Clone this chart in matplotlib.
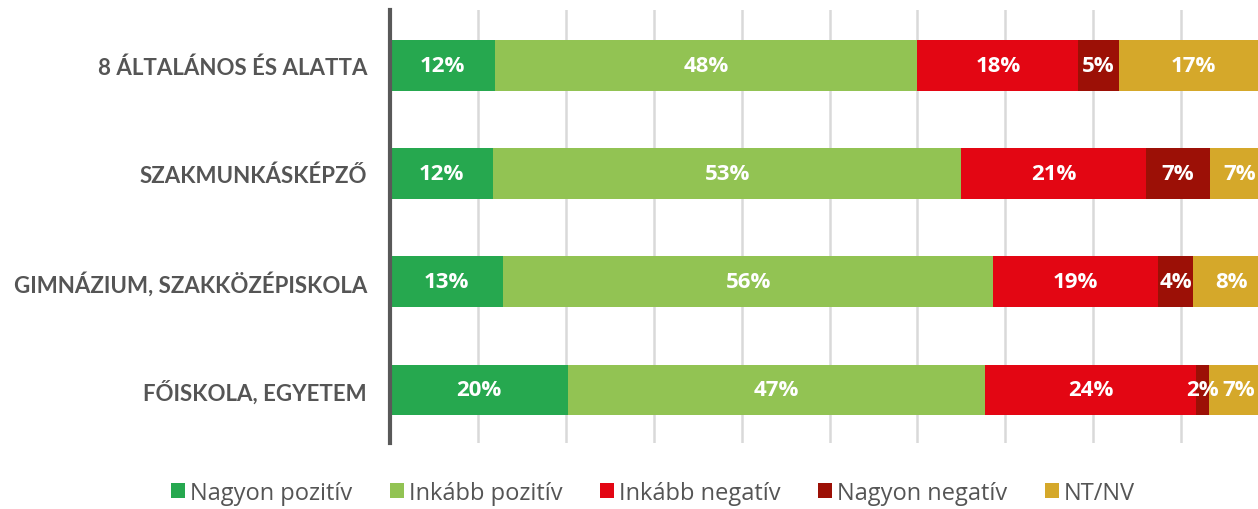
import matplotlib.pyplot as plt
import numpy as np

categories = ["8 ÁLTALÁNOS ÉS ALATTA", "SZAKMUNKÁSKÉPZŐ",
              "GIMNÁZIUM, SZAKKÖZÉPISKOLA", "FŐISKOLA, EGYETEM"]
series = ["Nagyon pozitív", "Inkább pozitív", "Inkább negatív", "Nagyon negatív", "NT/NV"]
colors = ["#26A84F", "#92C353", "#E30613", "#9C1006", "#D5A82A"]

# bar lengths, labels as printed
nagyon_pozitiv = [12.0, 11.7, 12.9, 20.2]
inkabb_pozitiv = [48.0, 53.3, 55.7, 47.5]
inkabb_negativ = [18.3, 21.0, 18.8, 24.0]
nagyon_negativ = [4.6, 7.3, 4.0, 1.5]
nt_nv = [17.1, 6.7, 8.6, 6.8]

labels = [
    ["12%", "12%", "13%", "20%"],
    ["48%", "53%", "56%", "47%"],
    ["18%", "21%", "19%", "24%"],
    ["5%", "7%", "4%", "2%"],
    ["17%", "7%", "8%", "7%"],
]

values = [nagyon_pozitiv, inkabb_pozitiv, inkabb_negativ, nagyon_negativ, nt_nv]

plt.rcParams['font.family'] = ['Lato', 'DejaVu Sans']

fig = plt.figure(figsize=(12.58, 5.10), dpi=100)
ax = fig.add_axes([390 / 1258, 66 / 510, 868 / 1258, 433 / 510])

y = np.arange(len(categories))
left = np.zeros(len(categories))
for vals, col, name, labs in zip(values, colors, series, labels):
    vals = np.array(vals)
    ax.barh(y, vals, left=left, height=0.47, color=col, label=name, zorder=3)
    for yi, l, v, t in zip(y, left, vals, labs):
        ax.text(l + v / 2, yi, t, ha="center", va="center", color="white",
                fontsize=16, fontweight="bold", family=["Open Sans", "DejaVu Sans"],
                zorder=4)
    left += vals

ax.set_xlim(0, 868 / 8.79)
ax.set_ylim(3.49, -0.51)
ax.set_xticks(np.arange(10, 100, 10))
ax.xaxis.grid(True, color="#D9D9D9", linewidth=1.8, zorder=0)
ax.tick_params(axis="x", length=0, labelbottom=False)
ax.tick_params(axis="y", length=0, pad=16.5)
ax.set_yticks(y)
ax.set_yticklabels(categories, fontsize=16, fontweight="bold", color="#555555")
for s in ["top", "right", "bottom"]:
    ax.spines[s].set_visible(False)
ax.spines["left"].set_color("#595959")
ax.spines["left"].set_linewidth(3)
ax.spines["left"].set_zorder(5)

leg = fig.legend(loc="center", bbox_to_anchor=(653 / 1258, 1 - 494 / 510), ncol=5,
                 frameon=False, handlelength=0.6, handleheight=0.6,
                 handletextpad=0.2, columnspacing=1.6,
                 prop={"family": ["Open Sans", "DejaVu Sans"], "size": 17})
for t in leg.get_texts():
    t.set_color("#555555")

fig.savefig("out.png", dpi=100)
